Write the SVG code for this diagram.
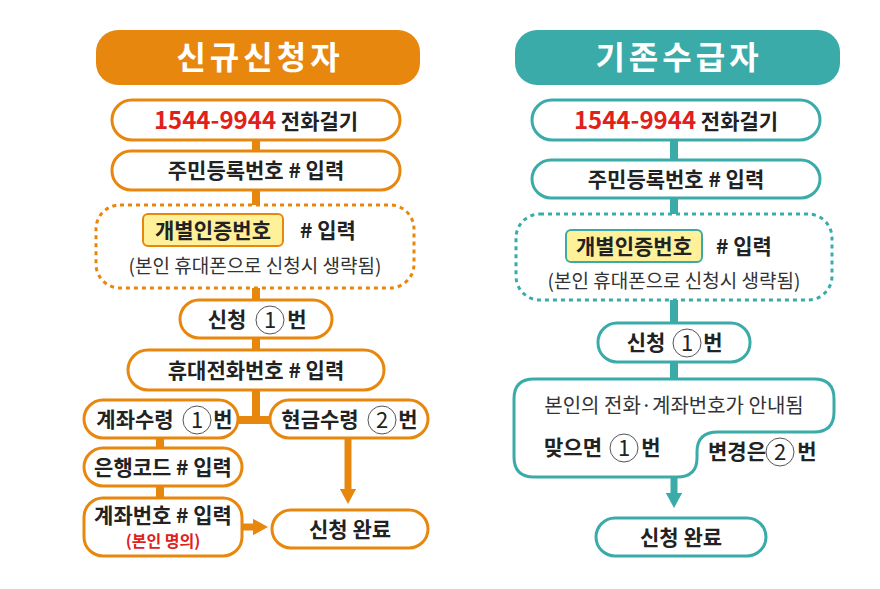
<svg xmlns="http://www.w3.org/2000/svg" width="880" height="589" viewBox="0 0 880 589">
<style>
text{font-family:"Noto Sans CJK KR","Noto Sans",sans-serif;fill:#222;font-weight:bold;font-size:21px;text-anchor:middle}
.o{fill:#fff;stroke:#E8870E;stroke-width:3}
.t{fill:#fff;stroke:#3AABA9;stroke-width:3}
.od{fill:#fff;stroke:#E8870E;stroke-width:3;stroke-dasharray:4 4}
.td{fill:#fff;stroke:#3AABA9;stroke-width:3;stroke-dasharray:4 4}
.y{fill:#FFF09A;stroke:#E8870E;stroke-width:2}
.yt{fill:#FFF09A;stroke:#3AABA9;stroke-width:2}
.h{fill:#fff;font-size:32px;letter-spacing:4px}
.r{fill:#E0201B;font-size:24px}
.n{font-weight:normal;fill:#333;font-size:19px}
.c{fill:#fff;stroke:#555;stroke-width:1}
.cn{font-weight:normal;font-size:22px}
</style>
<defs>
<marker id="ao" markerWidth="2.2" markerHeight="2.4" refX="0.2" refY="1.2" orient="auto"><path d="M0,0 L2.2,1.2 L0,2.4z" fill="#E8870E"/></marker>
<marker id="at" markerWidth="2.2" markerHeight="2.4" refX="0.2" refY="1.2" orient="auto"><path d="M0,0 L2.2,1.2 L0,2.4z" fill="#3AABA9"/></marker>
</defs>
<g id="connectors">
<path d="M256,140V420 M238,420H272 M160,438V500" stroke="#E8870E" stroke-width="8" fill="none"/>
<path d="M242,527H254" stroke="#E8870E" stroke-width="7" marker-end="url(#ao)"/>
<path d="M348,438V490" stroke="#E8870E" stroke-width="7" marker-end="url(#ao)"/>
<path d="M674,140V380" stroke="#3AABA9" stroke-width="8" fill="none"/>
<path d="M674,478V494" stroke="#3AABA9" stroke-width="7" marker-end="url(#at)"/>
</g>
<g id="h1"><rect x="96" y="30" width="324" height="55" rx="22" fill="#E8870E"/><text x="260" y="69" class="h">신규신청자</text></g>
<g id="l1"><rect class="o" x="112" y="100" width="288" height="40" rx="20"/><text x="256" y="129"><tspan class="r">1544-9944</tspan> 전화걸기</text></g>
<g id="l2"><rect class="o" x="112" y="151" width="288" height="39" rx="19"/><text x="256" y="178">주민등록번호 # 입력</text></g>
<g id="l3"><rect class="od" x="96" y="205" width="318" height="83" rx="24"/><rect class="y" x="143" y="214" width="140" height="32" rx="5"/><text x="213" y="238">개별인증번호</text><text x="328" y="238">#  입력</text><text x="255" y="273" class="n">(본인 휴대폰으로 신청시 생략됨)</text></g>
<g id="l4"><rect class="o" x="180" y="300" width="152" height="38" rx="19"/><text x="227" y="327">신청</text><circle class="c" cx="270" cy="320" r="14"/><text x="270" y="328" class="cn">1</text><text x="297" y="327">번</text></g>
<g id="l5"><rect class="o" x="128" y="350" width="256" height="40" rx="20"/><text x="256" y="378">휴대전화번호 # 입력</text></g>
<g id="l6"><rect class="o" x="84" y="400" width="154" height="38" rx="19"/><text x="135" y="427">계좌수령</text><circle class="c" cx="197" cy="420" r="14"/><text x="197" y="428" class="cn">1</text><text x="223" y="427">번</text></g>
<g id="l7"><rect class="o" x="270" y="400" width="158" height="38" rx="19"/><text x="320" y="427">현금수령</text><circle class="c" cx="382" cy="420" r="14"/><text x="382" y="428" class="cn">2</text><text x="408" y="427">번</text></g>
<g id="l8"><rect class="o" x="84" y="448" width="158" height="38" rx="19"/><text x="163" y="475">은행코드 # 입력</text></g>
<g id="l9"><rect class="o" x="84" y="498" width="158" height="58" rx="19"/><text x="163" y="523">계좌번호 # 입력</text><text x="163" y="547" style="fill:#E0201B;font-size:16px">(본인 명의)</text></g>
<g id="l10"><rect class="o" x="272" y="510" width="156" height="38" rx="19"/><text x="350" y="537">신청 완료</text></g>

<g id="h2"><rect x="515" y="30" width="325" height="55" rx="22" fill="#3AABA9"/><text x="679" y="69" class="h">기존수급자</text></g>
<g id="r1"><rect class="t" x="532" y="100" width="288" height="40" rx="20"/><text x="676" y="129"><tspan class="r">1544-9944</tspan> 전화걸기</text></g>
<g id="r2"><rect class="t" x="532" y="160" width="288" height="38" rx="19"/><text x="676" y="187">주민등록번호 # 입력</text></g>
<g id="r3"><rect class="td" x="516" y="214" width="316" height="86" rx="24"/><rect class="yt" x="566" y="230" width="136" height="32" rx="5"/><text x="634" y="254">개별인증번호</text><text x="744" y="254">#  입력</text><text x="674" y="288" class="n">(본인 휴대폰으로 신청시 생략됨)</text></g>
<g id="r4"><rect class="t" x="598" y="323" width="152" height="39" rx="19"/><text x="646" y="350">신청</text><circle class="c" cx="687" cy="343" r="14"/><text x="687" y="351" class="cn">1</text><text x="713" y="350">번</text></g>
<g id="r5"><path class="t" d="M534,379H814Q834,379 834,399V412Q834,432 814,432H718Q697,432 697,452V458Q697,477 677,477H534Q514,477 514,457V399Q514,379 534,379Z"/><text x="674" y="413" class="n" style="font-size:20px">본인의 전화·계좌번호가 안내됨</text><text x="573" y="455">맞으면</text><circle class="c" cx="624" cy="448" r="14"/><text x="624" y="456" class="cn">1</text><text x="651" y="455">번</text><text x="737" y="459">변경은</text><circle class="c" cx="780" cy="452" r="14"/><text x="780" y="460" class="cn">2</text><text x="807" y="459">번</text></g>
<g id="r6"><rect class="t" x="596" y="518" width="170" height="38" rx="19"/><text x="681" y="545">신청 완료</text></g>
</svg>
